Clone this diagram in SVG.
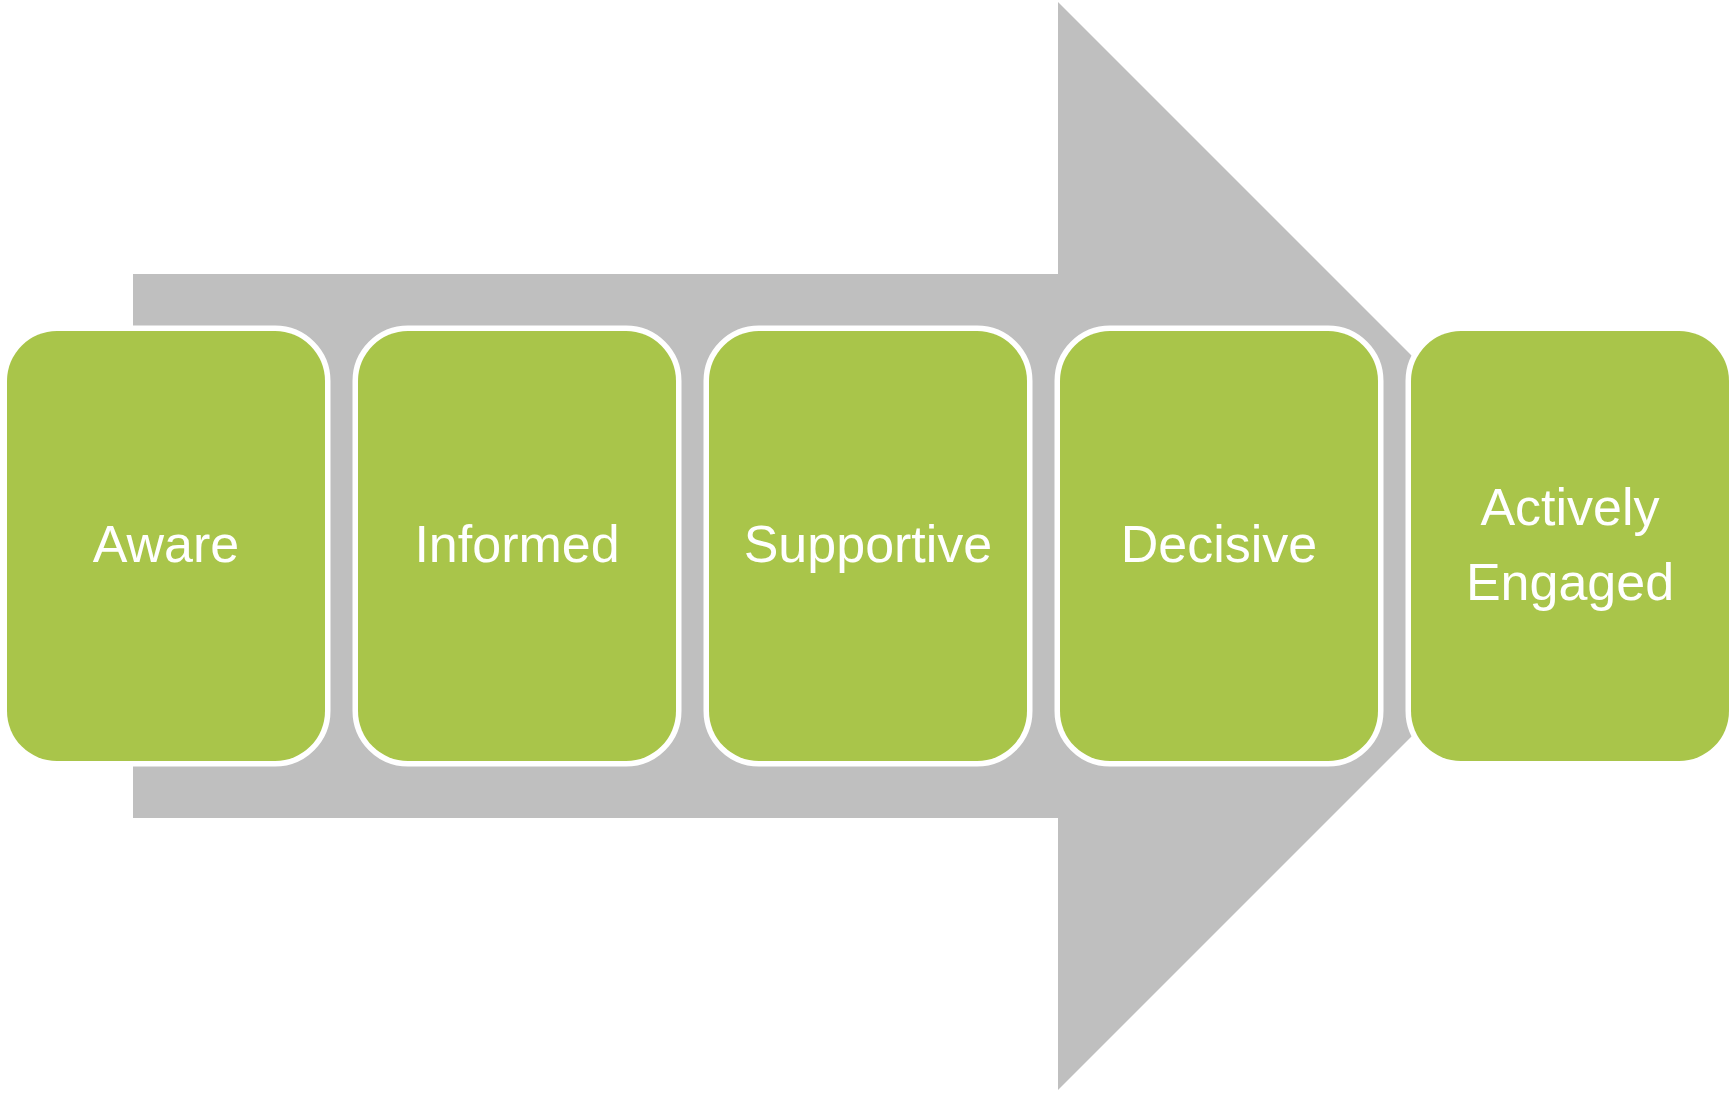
<svg xmlns="http://www.w3.org/2000/svg" width="1729" height="1095" viewBox="0 0 1729 1095">
<style>
.box{fill:#A9C54A;stroke:#FFFFFF;stroke-width:11;paint-order:stroke}
.lbl{font-family:"Liberation Sans",Arial,sans-serif;font-size:52px;fill:#FFFFFF;text-anchor:middle}
</style>
<rect width="1729" height="1095" fill="#FFFFFF"/>
<g id="connectors">
<polygon points="133,274 1058,274 1058,2 1602,546 1058,1090 1058,818 133,818" fill="#BFBFBF"/>
</g>
<g id="node-aware">
<rect class="box" x="7" y="331" width="318" height="430" rx="50" ry="50"/>
<text class="lbl" x="166" y="562">Aware</text>
</g>
<g id="node-informed">
<rect class="box" x="358" y="331" width="318" height="430" rx="50" ry="50"/>
<text class="lbl" x="517" y="562">Informed</text>
</g>
<g id="node-supportive">
<rect class="box" x="709" y="331" width="318" height="430" rx="50" ry="50"/>
<text class="lbl" x="868" y="562">Supportive</text>
</g>
<g id="node-decisive">
<rect class="box" x="1060" y="331" width="318" height="430" rx="50" ry="50"/>
<text class="lbl" x="1219" y="562">Decisive</text>
</g>
<g id="node-actively-engaged">
<rect class="box" x="1411" y="331" width="318" height="430" rx="50" ry="50"/>
<text class="lbl" x="1570" y="525">Actively</text>
<text class="lbl" x="1570" y="600">Engaged</text>
</g>
</svg>
